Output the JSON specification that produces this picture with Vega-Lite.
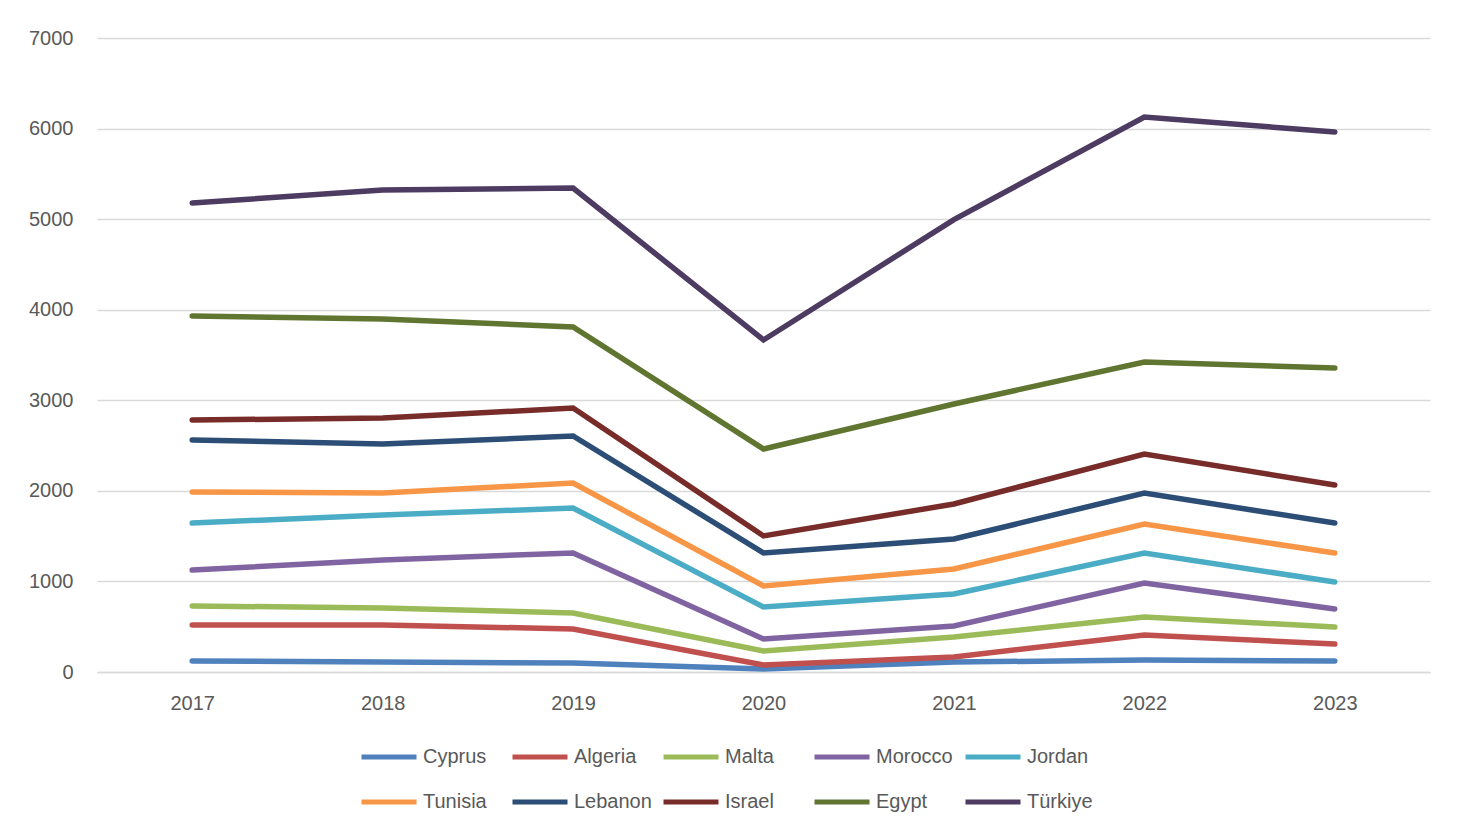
{
  "$schema": "https://vega.github.io/schema/vega-lite/v6.json",
  "width": 1333,
  "height": 634,
  "autosize": {"type": "none"},
  "padding": {"left": 97, "top": 38, "right": 37, "bottom": 158},
  "background": "white",
  "config": {
    "font": "Liberation Sans",
    "view": {"stroke": null},
    "axis": {"labelFont": "Liberation Sans", "labelFontSize": 20, "labelColor": "#595959"},
    "legend": {"labelFont": "Liberation Sans", "labelFontSize": 20, "labelColor": "#595959"}
  },
  "data": {
    "values": [
      {"year": "2017", "country": "Cyprus", "value": 121},
      {"year": "2018", "country": "Cyprus", "value": 110},
      {"year": "2019", "country": "Cyprus", "value": 99},
      {"year": "2020", "country": "Cyprus", "value": 33},
      {"year": "2021", "country": "Cyprus", "value": 110},
      {"year": "2022", "country": "Cyprus", "value": 132},
      {"year": "2023", "country": "Cyprus", "value": 121},
      {"year": "2017", "country": "Algeria", "value": 519},
      {"year": "2018", "country": "Algeria", "value": 519},
      {"year": "2019", "country": "Algeria", "value": 475},
      {"year": "2020", "country": "Algeria", "value": 77},
      {"year": "2021", "country": "Algeria", "value": 166},
      {"year": "2022", "country": "Algeria", "value": 409},
      {"year": "2023", "country": "Algeria", "value": 309},
      {"year": "2017", "country": "Malta", "value": 729},
      {"year": "2018", "country": "Malta", "value": 707},
      {"year": "2019", "country": "Malta", "value": 651},
      {"year": "2020", "country": "Malta", "value": 232},
      {"year": "2021", "country": "Malta", "value": 386},
      {"year": "2022", "country": "Malta", "value": 607},
      {"year": "2023", "country": "Malta", "value": 497},
      {"year": "2017", "country": "Morocco", "value": 1126},
      {"year": "2018", "country": "Morocco", "value": 1237},
      {"year": "2019", "country": "Morocco", "value": 1314},
      {"year": "2020", "country": "Morocco", "value": 364},
      {"year": "2021", "country": "Morocco", "value": 508},
      {"year": "2022", "country": "Morocco", "value": 983},
      {"year": "2023", "country": "Morocco", "value": 696},
      {"year": "2017", "country": "Jordan", "value": 1645},
      {"year": "2018", "country": "Jordan", "value": 1733},
      {"year": "2019", "country": "Jordan", "value": 1811},
      {"year": "2020", "country": "Jordan", "value": 718},
      {"year": "2021", "country": "Jordan", "value": 861},
      {"year": "2022", "country": "Jordan", "value": 1314},
      {"year": "2023", "country": "Jordan", "value": 994},
      {"year": "2017", "country": "Tunisia", "value": 1987},
      {"year": "2018", "country": "Tunisia", "value": 1976},
      {"year": "2019", "country": "Tunisia", "value": 2087},
      {"year": "2020", "country": "Tunisia", "value": 950},
      {"year": "2021", "country": "Tunisia", "value": 1137},
      {"year": "2022", "country": "Tunisia", "value": 1634},
      {"year": "2023", "country": "Tunisia", "value": 1314},
      {"year": "2017", "country": "Lebanon", "value": 2562},
      {"year": "2018", "country": "Lebanon", "value": 2517},
      {"year": "2019", "country": "Lebanon", "value": 2606},
      {"year": "2020", "country": "Lebanon", "value": 1314},
      {"year": "2021", "country": "Lebanon", "value": 1468},
      {"year": "2022", "country": "Lebanon", "value": 1976},
      {"year": "2023", "country": "Lebanon", "value": 1645},
      {"year": "2017", "country": "Israel", "value": 2782},
      {"year": "2018", "country": "Israel", "value": 2804},
      {"year": "2019", "country": "Israel", "value": 2915},
      {"year": "2020", "country": "Israel", "value": 1502},
      {"year": "2021", "country": "Israel", "value": 1855},
      {"year": "2022", "country": "Israel", "value": 2407},
      {"year": "2023", "country": "Israel", "value": 2065},
      {"year": "2017", "country": "Egypt", "value": 3931},
      {"year": "2018", "country": "Egypt", "value": 3898},
      {"year": "2019", "country": "Egypt", "value": 3809},
      {"year": "2020", "country": "Egypt", "value": 2462},
      {"year": "2021", "country": "Egypt", "value": 2959},
      {"year": "2022", "country": "Egypt", "value": 3423},
      {"year": "2023", "country": "Egypt", "value": 3357},
      {"year": "2017", "country": "Türkiye", "value": 5178},
      {"year": "2018", "country": "Türkiye", "value": 5322},
      {"year": "2019", "country": "Türkiye", "value": 5344},
      {"year": "2020", "country": "Türkiye", "value": 3666},
      {"year": "2021", "country": "Türkiye", "value": 4995},
      {"year": "2022", "country": "Türkiye", "value": 6128},
      {"year": "2023", "country": "Türkiye", "value": 5962}
    ]
  },
  "mark": {"type": "line", "strokeWidth": 5.5, "strokeCap": "round", "strokeJoin": "miter"},
  "encoding": {
    "x": {
      "field": "year", "type": "ordinal", "title": null,
      "scale": {"type": "point", "padding": 0.5},
      "axis": {"labelAngle": 0, "ticks": false, "domainColor": "#d9d9d9", "domainWidth": 1.5, "labelPadding": 21, "grid": false}
    },
    "y": {
      "field": "value", "type": "quantitative", "title": null,
      "scale": {"domain": [0, 7000], "nice": false},
      "axis": {"values": [0, 1000, 2000, 3000, 4000, 5000, 6000, 7000], "format": "d", "domain": false, "ticks": false, "labelPadding": 24, "gridColor": "#d9d9d9", "gridWidth": 1.5}
    },
    "color": {
      "field": "country", "type": "nominal",
      "sort": ["Cyprus", "Algeria", "Malta", "Morocco", "Jordan", "Tunisia", "Lebanon", "Israel", "Egypt", "Türkiye"],
      "scale": {
        "domain": ["Cyprus", "Algeria", "Malta", "Morocco", "Jordan", "Tunisia", "Lebanon", "Israel", "Egypt", "Türkiye"],
        "range": ["#4F81BD", "#C0504D", "#9BBB59", "#8064A2", "#4BACC6", "#F79646", "#2C4D75", "#772C2A", "#5F7530", "#4D3B62"]
      },
      "legend": {
        "title": null,
        "orient": "none",
        "direction": "horizontal",
        "legendX": 262,
        "legendY": 689,
        "columns": 5,
        "gridAlign": "all",
        "columnPadding": 1,
        "rowPadding": 5,
        "symbolType": "stroke",
        "symbolSize": 3025,
        "symbolStrokeWidth": 5,
        "labelOffset": 4
      }
    }
  }
}
